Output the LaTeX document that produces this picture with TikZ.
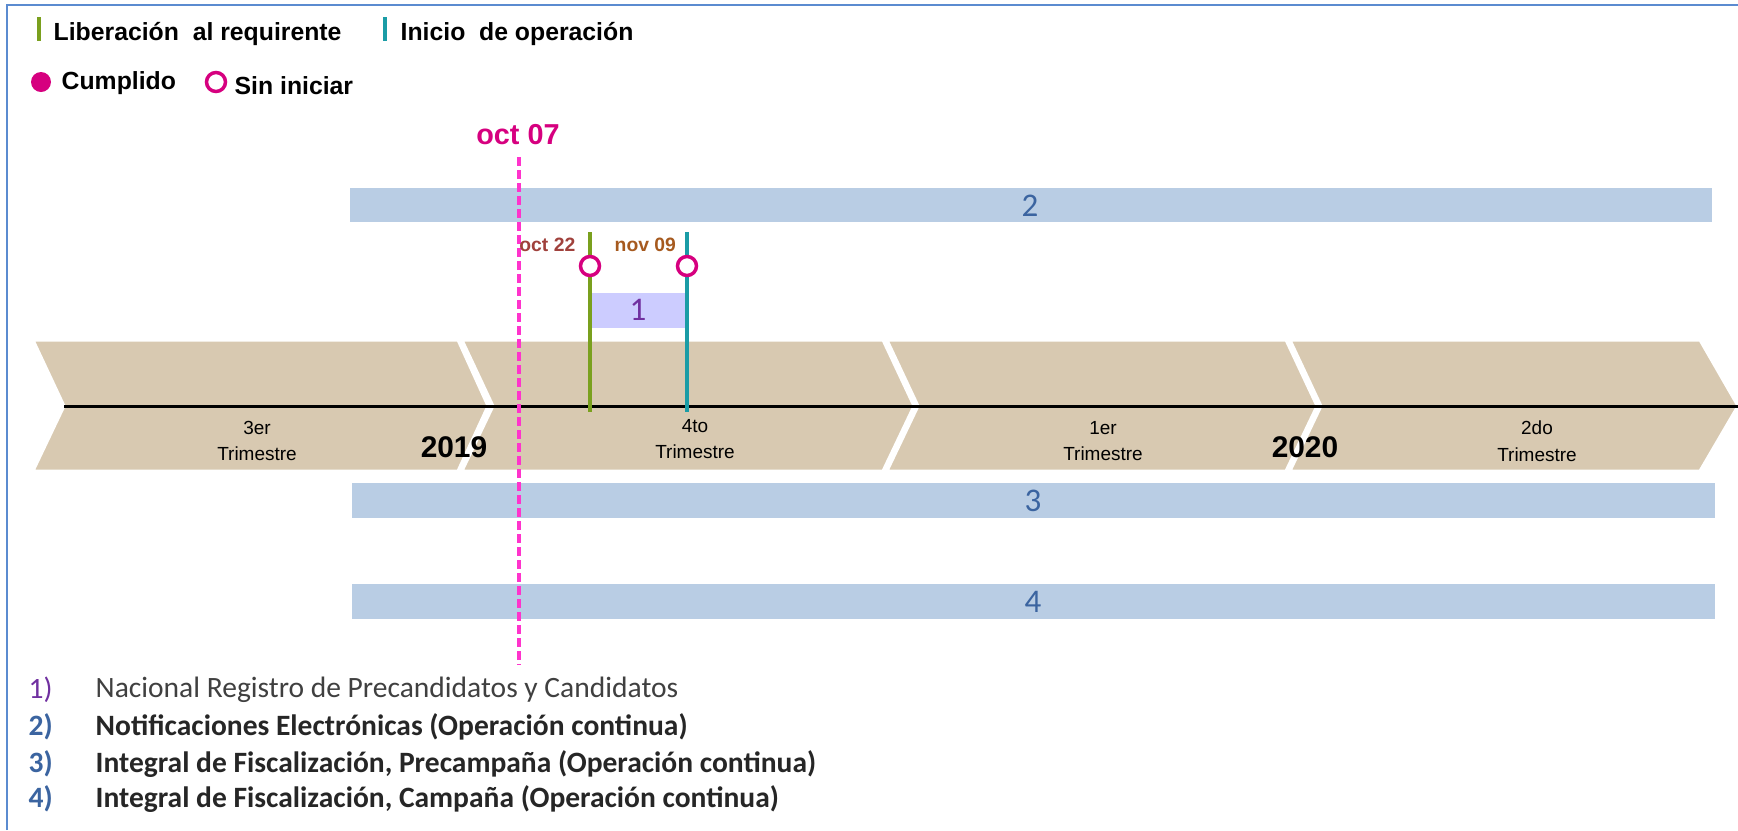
\documentclass[tikz,border=0pt]{standalone}
\usepackage{fontspec}
\setmainfont{Liberation Sans}
\newfontfamily\calib{Carlito}
\usetikzlibrary{positioning}

\definecolor{tan}{HTML}{D8C9B1}
\definecolor{barblue}{HTML}{B9CDE4}
\definecolor{lavender}{HTML}{CCCCFF}
\definecolor{magenta}{HTML}{D6007F}
\definecolor{pinkdash}{HTML}{FF33CC}
\definecolor{libgreen}{HTML}{7AA01E}
\definecolor{opteal}{HTML}{1A9CA6}
\definecolor{numblue}{HTML}{3B64A0}
\definecolor{numpurple}{HTML}{7030A0}
\definecolor{octbrown}{HTML}{A0413C}
\definecolor{novbrown}{HTML}{A65A1F}
\definecolor{frameblue}{HTML}{5B8BD0}

\begin{document}
\begin{tikzpicture}[x=0.1mm,y=-0.1mm,
	bar/.style={fill=barblue},
	barnum/.style={text=numblue,font=\calib\fontsize{9.4}{10}\selectfont},
	quarter/.style={align=center,font=\fontsize{5.4}{7.6}\selectfont},
	year/.style={font=\bfseries\fontsize{8.5}{9}\selectfont},
	legtext/.style={anchor=west,inner sep=0pt,font=\bfseries\fontsize{7.05}{8}\selectfont},
	milestone/.style={circle,draw=magenta,fill=white,line width=0.35mm,minimum size=1.9mm,inner sep=0pt},
	item/.style={anchor=west,inner sep=0pt,font=\calib\fontsize{8.4}{9}\selectfont},
	itembold/.style={item,font=\calib\bfseries\fontsize{8.4}{9}\selectfont}]
	\useasboundingbox (0,0) rectangle (1738,830);
	\draw[frameblue,line width=0.2mm](7,830)--(7,5)--(1738,5);

	% leyenda
	\draw[libgreen,line width=0.4mm](39,17)--(39,41);
	\node[legtext] (lib) at (53,34) {Liberación\ \ al requirente};
	\draw[opteal,line width=0.4mm](385,17)--(385,41);
	\node[legtext] (ini) at (400,34) {Inicio\ \ de operación};
	\fill[magenta](41,82) circle(10);
	\node[legtext] (cum) at (61,83) {Cumplido};
	\node[milestone] (sin) at (216,82) {};
	\node[legtext] (sini) at (234,86) {Sin iniciar};

	% barras
	\fill[bar](350,188) rectangle (1712,222);
	\node[barnum] (b2) at (1030,206) {2};
	\fill[bar](352,483) rectangle (1715,518);
	\node[barnum] (b3) at (1033,501) {3};
	\fill[bar](352,584) rectangle (1715,619);
	\node[barnum] (b4) at (1033,602) {4};

	% trimestres
	\foreach \xl/\xr/\tip in {33/458/488, 462/883/914, 887/1286/1317, 1290/1700/1738} {
		\filldraw[fill=tan,draw=white,line width=0.3mm]
			(\xl,340) -- (\xr,340) -- (\tip,406) -- (\xr,471) -- (\xl,471) -- (\xl+31,406) -- cycle;
	}
	\draw[line width=0.3mm](64,406)--(1738,406);
	\node[quarter] (q3) at (257,441) {3er\\Trimestre};
	\node[quarter] (q4) at (695,439) {4to\\Trimestre};
	\node[quarter] (q1) at (1103,441) {1er\\Trimestre};
	\node[quarter] (q2) at (1537,441) {2do\\Trimestre};
	\node[year] (y19) at (454,447) {2019};
	\node[year] (y20) at (1305,447) {2020};

	% oct 07
	\node[text=magenta,font=\bfseries\fontsize{8.2}{9}\selectfont] (hoy) at (518,135) {oct 07};
	\draw[pinkdash,line width=0.35mm,dash pattern=on 0.9mm off 0.4mm](519,157)--(519,665);

	% 1
	\fill[lavender](592,293) rectangle (685,328);
	\node[text=numpurple,font=\calib\fontsize{9.4}{10}\selectfont] (b1) at (638,310) {1};
	\coordinate (libtop) at (590,232);
	\coordinate (libbot) at (590,412);
	\coordinate (initop) at (687,232);
	\coordinate (inibot) at (687,412);
	\draw[libgreen,line width=0.45mm](libtop)--(libbot);
	\draw[opteal,line width=0.45mm](initop)--(inibot);
	\node[milestone] (m1) at (590,266) {};
	\node[milestone] (m2) at (687,266) {};
	\node[text=octbrown,font=\bfseries\fontsize{5.5}{6}\selectfont,anchor=east,inner sep=0pt] (d1) at (576,245) {oct 22};
	\node[text=novbrown,font=\bfseries\fontsize{5.5}{6}\selectfont,anchor=west,inner sep=0pt] (d2) at (614,245) {nov 09};

	% lista
	\node[item,text=numpurple] (n1) at (28,690) {1)};
	\node[item,text=black!75] (t1) at (95,690) {Nacional Registro de Precandidatos y Candidatos};
	\node[itembold,text=numblue] (n2) at (28,727) {2)};
	\node[itembold,text=black!85] (t2) at (95,727) {Notificaciones Electrónicas (Operación continua)};
	\node[itembold,text=numblue] (n3) at (28,764) {3)};
	\node[itembold,text=black!85] (t3) at (95,764) {Integral de Fiscalización,\ Precampaña (Operación continua)};
	\node[itembold,text=numblue] (n4) at (28,799) {4)};
	\node[itembold,text=black!85] (t4) at (95,799) {Integral de Fiscalización,\ Campaña (Operación continua)};
\end{tikzpicture}
\end{document}
